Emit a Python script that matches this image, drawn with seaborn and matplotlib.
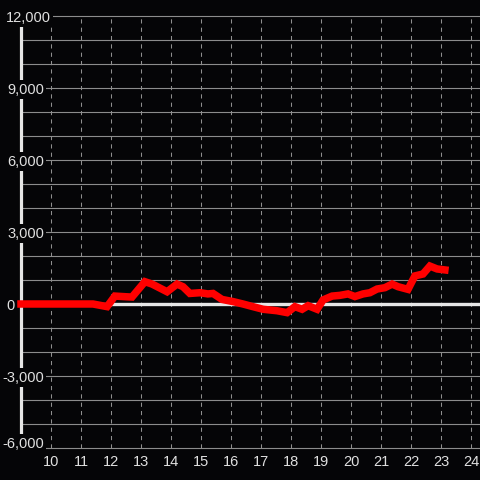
import matplotlib
matplotlib.use("Agg")
import matplotlib.pyplot as plt
import matplotlib.transforms as mtransforms
import seaborn as sns
import pandas as pd

# ---- data ----
hours = [9.00, 11.40, 11.87, 12.13, 12.53, 12.70, 13.13, 13.37, 13.87, 14.20,
         14.40, 14.63, 14.97, 15.23, 15.40, 15.70, 16.07, 16.40, 16.73, 17.07,
         17.53, 17.87, 18.13, 18.37, 18.57, 18.87, 19.07, 19.37, 19.63, 19.90,
         20.13, 20.40, 20.63, 20.87, 21.13, 21.37, 21.57, 21.90, 22.13, 22.40,
         22.63, 22.87, 23.13]
values = [0, 0, -110, 330, 300, 290, 930, 830, 510, 830,
          720, 440, 470, 420, 440, 190, 100, 0, -110, -220,
          -280, -360, -110, -220, -70, -220, 170, 330, 360, 420,
          310, 420, 470, 625, 680, 830, 720, 610, 1170, 1250,
          1580, 1460, 1420]
y_ticks = [12000, 9000, 6000, 3000, 0, -3000, -6000]
y_tick_labels = ["12,000", "9,000", "6,000", "3,000", "0", "-3,000", "-6,000"]
x_ticks = list(range(10, 25))
x_tick_labels = [str(t) for t in x_ticks]

df = pd.DataFrame({"hour": hours, "value": values})

BG = "#050507"
TXT = "#e0e0e0"

sns.set_theme(style="dark", rc={"axes.facecolor": BG, "figure.facecolor": BG})
plt.rcParams["font.family"] = ["Liberation Sans", "DejaVu Sans"]

fig = plt.figure(figsize=(4.8, 4.8), dpi=100)
ax = fig.add_axes([0, 0, 1, 1])
ax.set_facecolor(BG)
ax.set_axis_off()

X0, X1 = 8.3, 24.3
Y0, Y1 = -7333.33, 12666.67
ax.set_xlim(X0, X1)
ax.set_ylim(Y0, Y1)

x_axis_pos = 9.0
ymin, ymax = -6000, 12000

# horizontal grid every 1000
for v in range(ymin, ymax + 1, 1000):
    ax.plot([x_axis_pos, X1], [v, v], color="#8c8c8c", lw=0.8, zorder=1)
# vertical dashed grid at each hour
for t in x_ticks:
    ax.plot([t, t], [ymin, ymax], color="#8f8f8f", lw=0.75, ls=(0, (4, 4)), zorder=1)

# y axis line
ax.plot([x_axis_pos, x_axis_pos], [ymin, ymax], color="#e6e6e6", lw=2.3,
        solid_capstyle="butt", zorder=2)
# zero line
ax.plot([x_axis_pos, X1], [0, 0], color="#e6e6e6", lw=2.4,
        solid_capstyle="butt", zorder=2)

# data line
sns.lineplot(data=df, x="hour", y="value", ax=ax, color="#ff0000", lw=5.4,
             zorder=5, legend=False)
for ln in ax.lines[-1:]:
    ln.set_solid_capstyle("projecting")
    ln.set_solid_joinstyle("miter")

# y labels (pixel-anchored)
px = 1.0 / 30.0  # hours per pixel
for v, lab in zip(y_ticks, y_tick_labels):
    if lab in ("12,000", "0"):
        xpos, ha = X0 + 6 * px, "left"
    else:
        xpos, ha = X0 + 44 * px, "right"
    dy = 6 if v == ymin else 0
    tr = mtransforms.offset_copy(ax.transData, fig, x=0, y=dy, units="dots")
    ax.text(xpos, v, lab, color=TXT, fontsize=10.5, ha=ha, va="center_baseline",
            transform=tr, zorder=6,
            bbox=dict(boxstyle="square,pad=0.15", fc=BG, ec="none"))

# x labels
trx = mtransforms.offset_copy(ax.transData, fig, x=0, y=-12.5, units="dots")
for t, lab in zip(x_ticks, x_tick_labels):
    ax.text(t, ymin, lab, color=TXT, fontsize=10.5, ha="center",
            va="center_baseline", transform=trx, zorder=6)

fig.savefig("out.png", dpi=100, facecolor=BG)
